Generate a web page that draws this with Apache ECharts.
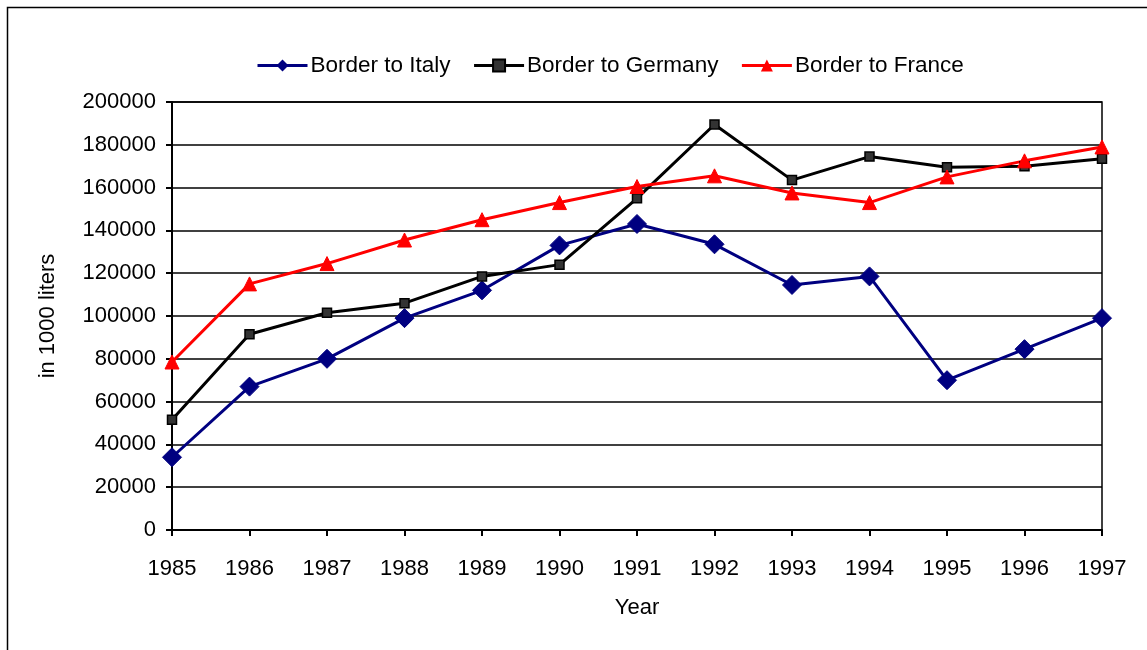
<!DOCTYPE html>
<html>
<head>
<meta charset="utf-8">
<script src="https://cdn.jsdelivr.net/npm/echarts@6/dist/echarts.min.js"></script>
<style>html,body{margin:0;padding:0;background:#fff}#c{width:1147px;height:650px}</style>
</head>
<body>
<div id="c"></div>
<script>
const years = ['1985','1986','1987','1988','1989','1990','1991','1992','1993','1994','1995','1996','1997'];
const italy = [34000, 67000, 80000, 99000, 112000, 133000, 143000, 133500, 114500, 118500, 70000, 84500, 99000];
const germany = [51500, 91500, 101500, 106000, 118500, 124000, 155000, 189500, 163500, 174500, 169500, 170000, 173500];
const france = [78500, 115000, 124500, 135500, 145000, 153000, 160500, 165500, 157500, 153000, 165000, 172500, 179000];
const yTicks = { min: 0, max: 200000, interval: 20000 };

const chart = echarts.init(document.getElementById('c'), null, { renderer: 'canvas' });
const font = 'Liberation Sans, Arial, sans-serif';
chart.setOption({
  animation: false,
  backgroundColor: '#fff',
  textStyle: { fontFamily: font, color: '#000' },
  graphic: [{
    type: 'rect', left: 5, top: 5, silent: true,
    shape: { x: 0, y: 0, width: 1200, height: 700 },
    style: { fill: 'none', stroke: '#000', lineWidth: 1.5 }
  }],
  legend: {
    top: 49, left: 251,
    itemWidth: 50, itemHeight: 15, itemGap: 22,
    lineStyle: { width: 3 },
    textStyle: { fontSize: 22.5, fontFamily: font, color: '#000', padding: [0, 0, 0, -2] },
    data: ['Border to Italy', 'Border to Germany', 'Border to France']
  },
  grid: { left: 172, right: 45, top: 102, bottom: 120, show: true, borderColor: '#000', borderWidth: 1.5 },
  xAxis: {
    type: 'category', data: years, boundaryGap: false,
    name: 'Year', nameLocation: 'middle', nameGap: 67,
    nameTextStyle: { fontSize: 22, fontFamily: font, color: '#000' },
    axisLine: { lineStyle: { color: '#000', width: 2 } },
    axisTick: { show: true, length: 6, inside: false, lineStyle: { color: '#000', width: 2 } },
    axisLabel: { fontSize: 22, color: '#000', margin: 28, fontFamily: font },
    splitLine: { show: false }
  },
  yAxis: {
    type: 'value', min: yTicks.min, max: yTicks.max, interval: yTicks.interval,
    name: 'in 1000 liters', nameLocation: 'middle', nameGap: 113,
    nameTextStyle: { fontSize: 22, fontFamily: font, color: '#000' },
    axisLine: { show: true, lineStyle: { color: '#000', width: 2 } },
    axisTick: { show: true, length: 6, lineStyle: { color: '#000', width: 2 } },
    axisLabel: { fontSize: 22, color: '#000', margin: 16, fontFamily: font, formatter: v => String(v) },
    splitLine: { show: true, lineStyle: { color: '#000', width: 1.5 } }
  },
  series: [
    {
      name: 'Border to Italy', type: 'line', data: italy,
      symbol: 'diamond', symbolSize: 19,
      lineStyle: { color: '#000080', width: 3 },
      itemStyle: { color: '#000080', borderColor: '#000080' }
    },
    {
      name: 'Border to Germany', type: 'line', data: germany,
      symbol: 'rect', symbolSize: 9,
      lineStyle: { color: '#000', width: 3 },
      itemStyle: { color: '#333', borderColor: '#000', borderWidth: 1.5 }
    },
    {
      name: 'Border to France', type: 'line', data: france,
      symbol: 'triangle', symbolSize: 14,
      lineStyle: { color: '#ff0000', width: 3 },
      itemStyle: { color: '#ff0000', borderColor: '#ff0000' }
    }
  ]
});
</script>
</body>
</html>
